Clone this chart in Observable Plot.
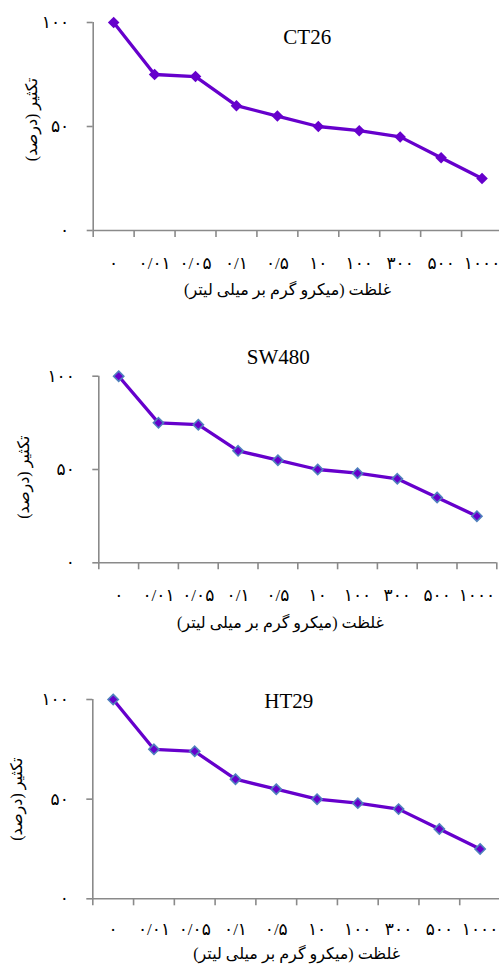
<!DOCTYPE html>
<html>
<head>
<meta charset="utf-8">
<script src="https://cdn.jsdelivr.net/npm/d3@7"></script>
<script src="https://cdn.jsdelivr.net/npm/@observablehq/plot@0.6"></script>
<style>
  body { margin: 0; background: #fff; }
  #chart { width: 499px; }
  #chart svg { display: block; }
</style>
</head>
<body>
<div id="chart"></div>
<script>
// ---- data ----
const concentrationLabels = ["۰", "۰/۰۱", "۰/۰۵", "۰/۱", "۰/۵", "۱۰", "۱۰۰", "۳۰۰", "۵۰۰", "۱۰۰۰"];
const ct26Values  = [100, 75, 74, 60, 55, 50, 48, 45, 35, 25];
const sw480Values = [100, 75, 74, 60, 55, 50, 48, 45, 35, 25];
const ht29Values  = [100, 75, 74, 60, 55, 50, 48, 45, 35, 25];
const yTicks = [0, 50, 100];
const yTickLabels = ["۰", "۵۰", "۱۰۰"];
const panelTitles = ["CT26", "SW480", "HT29"];
const xTitle = "\u200Fغلظت (میکرو گرم بر میلی لیتر)\u200F";
const yTitle = "\u200Fتکثیر (درصد)\u200F";

// ---- styles / layout ----
const FONT = "'Liberation Serif', 'DejaVu Sans', serif";
const AXIS = "#8a8a8a";
const PURPLE = "#6600cc";
const OUTLINE = "#4f81bd";

const layouts = [
  {height: 305, mt: 22,   mb: 75,   ml: 92.7, mr: -3,  titleDx: 9.4,   titleDy: 14.7, xtDx: -10.3, xtDy: 59,  ytDx: -61,   ytDy: -7,  tickPad: 26, r: 5.2, outline: false},
  {height: 335, mt: 70.7, mb: 77.7, ml: 98.3, mr: 2.7, titleDx: -19.6, titleDy: -19,  xtDx: -17.3, xtDy: 60,  ytDx: -75,   ytDy: 7.7, tickPad: 26, r: 4.6, outline: true},
  {height: 325, mt: 59,   mb: 66.7, ml: 92.3, mr: -1,  titleDx: -7.9,  titleDy: 2,    xtDx: 0,     xtDy: 55,  ytDx: -75.6, ytDy: 0,   tickPad: 24.5, r: 4.6, outline: true}
];
const series = [ct26Values, sw480Values, ht29Values];

function panel(title, values, L) {
  const rows = values.map((v, i) => ({pos: i + 0.5, v}));
  const n = concentrationLabels.length;
  return Plot.plot({
    width: 499,
    height: L.height,
    marginTop: L.mt, marginBottom: L.mb, marginLeft: L.ml, marginRight: L.mr,
    style: {fontFamily: FONT, fontSize: "16px", color: "#000", background: "#fff"},
    x: {domain: [0, n], axis: null},
    y: {domain: [0, 100], axis: null},
    marks: [
      Plot.ruleX([0], {stroke: AXIS, strokeWidth: 1.6}),
      Plot.ruleY([0], {stroke: AXIS, strokeWidth: 1.6}),
      Plot.axisX(d3.range(n + 1), {tickSize: 7, tickFormat: () => "", stroke: AXIS, strokeWidth: 1.6, label: null}),
      Plot.axisX(d3.range(n).map(i => i + 0.5), {
        tickSize: 0, tickPadding: L.tickPad, fontSize: 17, fill: "#000",
        tickFormat: d => concentrationLabels[Math.floor(d)], label: null
      }),
      Plot.axisY(yTicks, {
        tickSize: 6, tickPadding: 18, fontSize: 17, fill: "#000", stroke: AXIS, strokeWidth: 1.6,
        tickFormat: d => yTickLabels[yTicks.indexOf(d)], label: null
      }),
      Plot.line(rows, {x: "pos", y: "v", stroke: PURPLE, strokeWidth: 3.3, strokeLinejoin: "round"}),
      Plot.dot(rows, {
        x: "pos", y: "v", symbol: "diamond2", r: L.r, fill: PURPLE,
        stroke: L.outline ? OUTLINE : "none", strokeWidth: L.outline ? 1.6 : 0
      }),
      Plot.text([title], {frameAnchor: "top", dx: L.titleDx, dy: L.titleDy, lineAnchor: "middle",
        fontSize: 21, fontFamily: "'Liberation Serif', serif", fill: "#000"}),
      Plot.text([xTitle], {frameAnchor: "bottom", dx: L.xtDx, dy: L.xtDy, lineAnchor: "middle",
        textAnchor: "middle", fontSize: 16, fill: "#000"}),
      Plot.text([yTitle], {frameAnchor: "left", dx: L.ytDx, dy: L.ytDy, rotate: -90, lineAnchor: "middle",
        textAnchor: "middle", fontSize: 16, fill: "#000"})
    ]
  });
}

const container = document.getElementById("chart");
panelTitles.forEach((t, k) => container.appendChild(panel(t, series[k], layouts[k])));
</script>
</body>
</html>
